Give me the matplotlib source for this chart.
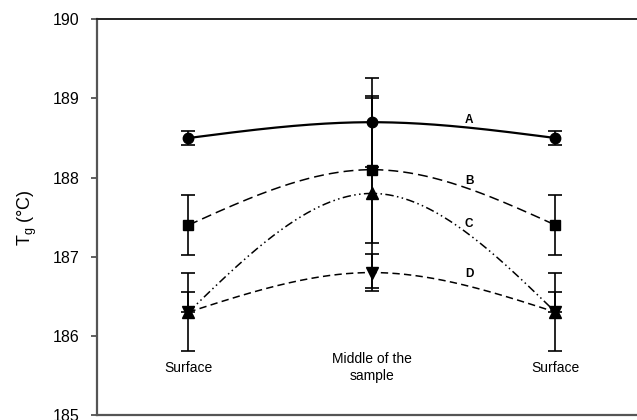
import numpy as np
import matplotlib
matplotlib.use("Agg")
import matplotlib.pyplot as plt

plt.rcParams['font.family'] = ['Liberation Sans', 'DejaVu Sans']
plt.rcParams['mathtext.fontset'] = 'custom'
plt.rcParams['mathtext.rm'] = 'Liberation Sans'

# positions along the sample
pos = [0, 1, 2]
pos_labels = ['Surface', 'Middle of the\nsample', 'Surface']

# Tg values (deg C) and error bars for each curve
tg_a = [188.5, 188.7, 188.5]
err_a = [0.09, 0.56, 0.09]
tg_b = [187.4, 188.1, 187.4]
err_b = [0.38, 0.93, 0.38]
tg_c = [186.3, 187.8, 186.3]
err_c = [0.49, 1.2, 0.49]
tg_d = [186.3, 186.8, 186.3]
err_d_lo = [0.0, 0.23, 0.0]
err_d_hi = [0.25, 0.23, 0.25]

curve_names = ['A', 'B', 'C', 'D']
label_x = 1.53
label_y = [188.73, 187.96, 187.41, 186.78]


def natural_spline(x, y, n=200):
    # natural cubic spline through 3 equally spaced points
    x = np.asarray(x, float)
    y = np.asarray(y, float)
    h = x[1] - x[0]
    m1 = 6.0 * (y[0] - 2 * y[1] + y[2]) / (4.0 * h * h)
    M = [0.0, m1, 0.0]
    xs, ys = [], []
    for i in range(2):
        t = np.linspace(x[i], x[i + 1], n)
        a = x[i + 1] - t
        b = t - x[i]
        s = (M[i] * a**3 + M[i + 1] * b**3) / (6 * h) \
            + (y[i] / h - M[i] * h / 6) * a + (y[i + 1] / h - M[i + 1] * h / 6) * b
        xs.append(t)
        ys.append(s)
    return np.concatenate(xs), np.concatenate(ys)


fig = plt.figure(figsize=(6.37, 4.2), dpi=100)
ax = fig.add_axes([0.1518, 0.0119, 0.8642, 0.9421])

lw = 1.1
styles = [
    dict(ls='-', lw=1.6, marker='o', ms=7.5),
    dict(ls=(0, (6.5, 3.3)), lw=lw, marker='s', ms=6.5),
    dict(ls=(0, (5.5, 2.2, 1.0, 2.2, 1.0, 2.2)), lw=lw, marker='^', ms=8),
    dict(ls=(0, (4.8, 2.8)), lw=lw, marker='v', ms=8),
]
series = [tg_a, tg_b, tg_c, tg_d]
errs = [err_a, err_b, err_c, [err_d_lo, err_d_hi]]

for y, e, st in zip(series, errs, styles):
    ax.errorbar(pos, y, yerr=e, fmt='none', ecolor='black', elinewidth=1.2,
                capsize=5, capthick=1.2, zorder=2)
    xs, ys = natural_spline(pos, y)
    ax.plot(xs, ys, color='black', linestyle=st['ls'], lw=st['lw'], zorder=3)
    ax.plot(pos, y, linestyle='none', marker=st['marker'], ms=st['ms'],
            color='black', zorder=4)

for name, ly in zip(curve_names, label_y):
    ax.text(label_x, ly, name, ha='center', va='center', fontsize=8.5,
            fontweight='bold')

for p, lab in zip(pos, pos_labels):
    ax.text(p, 185.6, lab, ha='center', va='center', fontsize=10,
            linespacing=1.25)

ax.set_xlim(-0.5, 2.5)
ax.set_ylim(185, 190)
ax.set_xticks([])
ax.set_yticks([185, 186, 187, 188, 189, 190])
ax.tick_params(axis='y', direction='out', length=4.5, width=1.2,
               labelsize=11.5, pad=8, color='#444444')
for s in ['left', 'bottom']:
    ax.spines[s].set_color('#555555')
    ax.spines[s].set_linewidth(1.6)
ax.spines['top'].set_color('#222222')
ax.spines['top'].set_linewidth(1.4)
ax.spines['right'].set_visible(False)

ax.set_ylabel('T$_\\mathrm{g}$ (°C)', fontsize=13)
ax.yaxis.set_label_coords(-0.104, 0.5)

fig.savefig('out.png', dpi=100)
